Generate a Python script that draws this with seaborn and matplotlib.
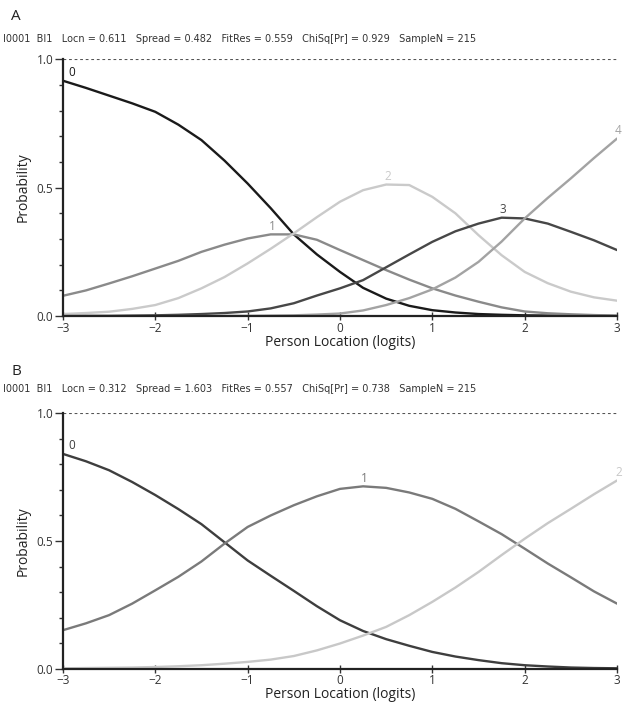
import numpy as np
import pandas as pd
import matplotlib
matplotlib.use("Agg")
import matplotlib.pyplot as plt
from matplotlib.ticker import MultipleLocator
import seaborn as sns

# person location grid (logits)
x = [-3, -2.75, -2.5, -2.25, -2, -1.75, -1.5, -1.25, -1, -0.75, -0.5, -0.25,
     0, 0.25, 0.5, 0.75, 1, 1.25, 1.5, 1.75, 2, 2.25, 2.5, 2.75, 3]

# panel A category probability curves
a_cat0 = [0.916, 0.888, 0.858, 0.828, 0.795, 0.745, 0.685, 0.605, 0.516, 0.42, 0.318, 0.24,
          0.172, 0.11, 0.068, 0.04, 0.023, 0.014, 0.008, 0.005, 0.003, 0.002, 0.001, 0.001, 0.0]
a_cat1 = [0.079, 0.1, 0.127, 0.155, 0.185, 0.215, 0.25, 0.278, 0.302, 0.318, 0.318, 0.297,
          0.257, 0.218, 0.179, 0.142, 0.108, 0.08, 0.056, 0.034, 0.018, 0.011, 0.007, 0.004, 0.002]
a_cat2 = [0.008, 0.012, 0.017, 0.028, 0.043, 0.07, 0.108, 0.152, 0.205, 0.262, 0.322, 0.385,
          0.445, 0.49, 0.512, 0.51, 0.464, 0.4, 0.315, 0.237, 0.172, 0.128, 0.095, 0.073, 0.06]
a_cat3 = [0.0, 0.001, 0.001, 0.002, 0.003, 0.005, 0.008, 0.012, 0.018, 0.03, 0.05, 0.08,
          0.108, 0.14, 0.19, 0.24, 0.289, 0.33, 0.36, 0.383, 0.38, 0.36, 0.328, 0.295, 0.257]
a_cat4 = [0.0, 0.0, 0.0, 0.0, 0.0, 0.0, 0.0, 0.001, 0.001, 0.002, 0.003, 0.006,
          0.01, 0.022, 0.043, 0.07, 0.104, 0.15, 0.211, 0.29, 0.38, 0.46, 0.536, 0.615, 0.691]

# panel B
b_cat0 = [0.841, 0.812, 0.777, 0.731, 0.68, 0.625, 0.566, 0.495, 0.424, 0.364, 0.305, 0.245,
          0.19, 0.148, 0.116, 0.09, 0.066, 0.048, 0.034, 0.022, 0.014, 0.009, 0.005, 0.003, 0.002]
b_cat1 = [0.151, 0.178, 0.21, 0.255, 0.307, 0.36, 0.42, 0.49, 0.555, 0.6, 0.64, 0.675,
          0.704, 0.714, 0.708, 0.69, 0.665, 0.626, 0.577, 0.527, 0.47, 0.412, 0.358, 0.303, 0.255]
b_cat2 = [0.002, 0.003, 0.004, 0.005, 0.007, 0.01, 0.014, 0.02, 0.027, 0.036, 0.05, 0.072,
          0.099, 0.13, 0.164, 0.21, 0.262, 0.318, 0.379, 0.445, 0.509, 0.57, 0.626, 0.683, 0.737]

header_a = "I0001  BI1   Locn = 0.611   Spread = 0.482   FitRes = 0.559   ChiSq[Pr] = 0.929   SampleN = 215"
header_b = "I0001  BI1   Locn = 0.312   Spread = 1.603   FitRes = 0.557   ChiSq[Pr] = 0.738   SampleN = 215"

sns.set_style("ticks")
plt.rcParams["font.family"] = ["Open Sans", "DejaVu Sans"]

fig = plt.figure(figsize=(6.29, 7.04), dpi=100)
ax_a = fig.add_axes([0.100, 0.551, 0.881, 0.365])
ax_b = fig.add_axes([0.100, 0.050, 0.881, 0.363])

panels = [
    (ax_a, [a_cat0, a_cat1, a_cat2, a_cat3, a_cat4],
     ["#1a1a1a", "#8a8a8a", "#cacaca", "#474747", "#a3a3a3"], "A", header_a, 0.976, 0.945),
    (ax_b, [b_cat0, b_cat1, b_cat2],
     ["#3e3e3e", "#7a7a7a", "#c8c8c8"], "B", header_b, 0.473, 0.448),
]

for ax, curves, colors, letter, header, ylet, yhead in panels:
    for k, (vals, col) in enumerate(zip(curves, colors)):
        df = pd.DataFrame({"x": x, "p": vals})
        sns.lineplot(data=df, x="x", y="p", ax=ax, color=col, linewidth=1.7)
        i = int(np.argmax(vals))
        dx = 4 if i == 0 else 1
        ha = "left" if i == 0 else "center"
        ax.annotate(str(k), (x[i], vals[i]), xytext=(dx, 1), textcoords="offset points",
                    ha=ha, va="bottom", color=col, fontsize=8.5)
    ax.axhline(1.0, color="#555555", linestyle=(0, (2.5, 2.5)), linewidth=0.8)
    ax.set_xlim(-3, 3)
    ax.set_ylim(0, 1)
    ax.set_xticks([-3, -2, -1, 0, 1, 2, 3])
    ax.set_yticks([0.0, 0.5, 1.0])
    ax.set_yticklabels(["0.0", "0.5", "1.0"])
    ax.yaxis.set_minor_locator(MultipleLocator(0.1))
    ax.tick_params(axis="x", direction="inout", length=6, width=1, colors="#333333",
                   labelsize=8.5, pad=1)
    ax.tick_params(axis="y", which="major", length=6, width=1, colors="#333333",
                   labelsize=8.5, pad=1)
    ax.tick_params(axis="y", which="minor", length=3, width=1, colors="#333333")
    for side in ["top", "right"]:
        ax.spines[side].set_visible(False)
    for side in ["left", "bottom"]:
        ax.spines[side].set_linewidth(1.6)
        ax.spines[side].set_color("#222222")
    ax.set_xlabel("Person Location (logits)", fontsize=10, color="#222222", labelpad=0)
    ax.set_ylabel("Probability", fontsize=10, color="#222222", labelpad=4)
    fig.text(0.018, ylet, letter, fontsize=11, color="#222222", va="center")
    fig.text(0.005, yhead, header, fontsize=7.0, color="#333333", va="center",
             family=["Liberation Sans Narrow", "DejaVu Sans"])

fig.savefig("out.png", dpi=100)
